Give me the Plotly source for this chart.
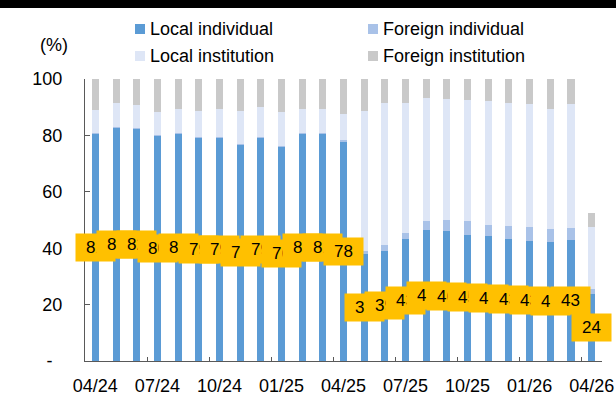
import plotly.graph_objects as go

months = ["04/24", "05/24", "06/24", "07/24", "08/24", "09/24", "10/24", "11/24", "12/24",
          "01/25", "02/25", "03/25", "04/25", "05/25", "06/25", "07/25", "08/25", "09/25",
          "10/25", "11/25", "12/25", "01/26", "02/26", "03/26", "04/26"]

local_individual = [80.7, 82.9, 82.5, 79.9, 80.5, 79.3, 79.2, 76.8, 79.3, 76.2, 80.7, 80.6, 78.0,
                    38.2, 39.1, 43.1, 46.5, 46.1, 44.7, 44.3, 43.3, 42.7, 42.2, 42.9, 23.8]
foreign_individual = [0.2, 0.2, 0.2, 0.2, 0.2, 0.2, 0.2, 0.2, 0.2, 0.2, 0.2, 0.2, 0.3,
                      0.7, 2.0, 2.2, 3.2, 3.9, 4.9, 3.9, 4.6, 4.7, 4.7, 4.3, 1.7]
local_institution = [8.1, 8.5, 8.2, 8.3, 8.7, 9.0, 10.0, 11.7, 10.7, 11.8, 8.6, 8.4, 9.4,
                     49.8, 50.5, 46.1, 43.4, 42.9, 43.0, 44.1, 43.7, 43.6, 42.6, 43.8, 21.9]
foreign_institution = [11.0, 8.4, 9.1, 11.6, 10.6, 11.5, 10.6, 11.3, 9.8, 11.8, 10.5, 10.8, 12.3,
                       11.3, 8.4, 8.6, 6.9, 7.1, 7.4, 7.7, 8.4, 9.0, 10.5, 9.0, 5.1]

series = [
    ("Local individual", local_individual, "#5B9BD5"),
    ("Foreign individual", foreign_individual, "#A9C2E8"),
    ("Local institution", local_institution, "#DEE6F6"),
    ("Foreign institution", foreign_institution, "#C9C9C9"),
]

y_tickvals = [0, 20, 40, 60, 80, 100]
y_ticktext = ["-\u00a0\u00a0", "20", "40", "60", "80", "100"]
x_tickvals = months[::3]

FONT = "Arial, 'Liberation Sans', sans-serif"

W, H = 616, 401
L, R, T, B = 85, 14, 79, 40
PW, PH = W - L - R, H - T - B


def px(x):
    return (x - L) / PW


def py(y):
    return (H - B - y) / PH


fig = go.Figure()
for name, vals, color in series:
    fig.add_trace(go.Bar(x=months, y=vals, name=name, marker=dict(color=color, line=dict(width=0)),
                         showlegend=False, hoverinfo="skip"))

annotations = []
# data labels for local individual
for m, v in zip(months, local_individual):
    annotations.append(dict(x=m, y=v / 2, xref="x", yref="y", text=f"{round(v)}", showarrow=False,
                            bgcolor="#FFC000", width=39, height=27, borderpad=0,
                            font=dict(family=FONT, size=17, color="#000000"),
                            xanchor="center", yanchor="middle"))

shapes = []
# manual legend
legend_pos = [(135, 29), (368, 29), (135, 56), (368, 56)]
for (name, vals, color), (lx, ly) in zip(series, legend_pos):
    shapes.append(dict(type="rect", xref="paper", yref="paper", x0=px(lx), x1=px(lx + 10),
                       y0=py(ly + 5), y1=py(ly - 5), fillcolor=color, line=dict(width=0)))
    annotations.append(dict(x=px(lx + 13), y=py(ly), xref="paper", yref="paper", text=name,
                            showarrow=False, xanchor="left", yanchor="middle",
                            font=dict(family=FONT, size=18, color="#000000")))

annotations.append(dict(x=px(54), y=py(45), xref="paper", yref="paper", text="(%)", showarrow=False,
                        xanchor="center", yanchor="middle", font=dict(family=FONT, size=18, color="#000000")))

# top black rule
shapes.append(dict(type="rect", xref="paper", yref="paper", x0=px(-2), x1=px(W + 2), y0=py(0), y1=py(8),
                   fillcolor="#000000", line=dict(width=0), layer="above"))

fig.update_layout(
    width=W, height=H,
    margin=dict(l=L, r=R, t=T, b=B, pad=0, autoexpand=False),
    barmode="stack", bargap=0.66,
    plot_bgcolor="#FFFFFF", paper_bgcolor="#FFFFFF",
    font=dict(family=FONT, size=18, color="#000000"),
    annotations=annotations, shapes=shapes,
    xaxis=dict(type="category", range=[-0.5, len(months) - 0.5], tickmode="array",
               tickvals=x_tickvals, ticktext=x_tickvals,
               ticks="inside", ticklen=4, tickcolor="#595959", tickson="boundaries",
               showline=True, linecolor="#595959", linewidth=1, showgrid=False, automargin=False,
               tickfont=dict(family=FONT, size=18), ticklabelstandoff=8, tickangle=0),
    yaxis=dict(range=[0, 100], tickmode="array", tickvals=y_tickvals, ticktext=y_ticktext,
               ticks="inside", ticklen=5, tickcolor="#595959", automargin=False,
               showline=True, linecolor="#595959", linewidth=1, showgrid=False, zeroline=False,
               tickfont=dict(family=FONT, size=18), ticklabelstandoff=18),
)

fig.write_html("out.html", config={"displayModeBar": False},
               post_script="document.documentElement.style.margin='0px';document.body.style.margin='0px';"
                           "document.body.style.padding='0px';document.body.style.overflow='hidden';")
